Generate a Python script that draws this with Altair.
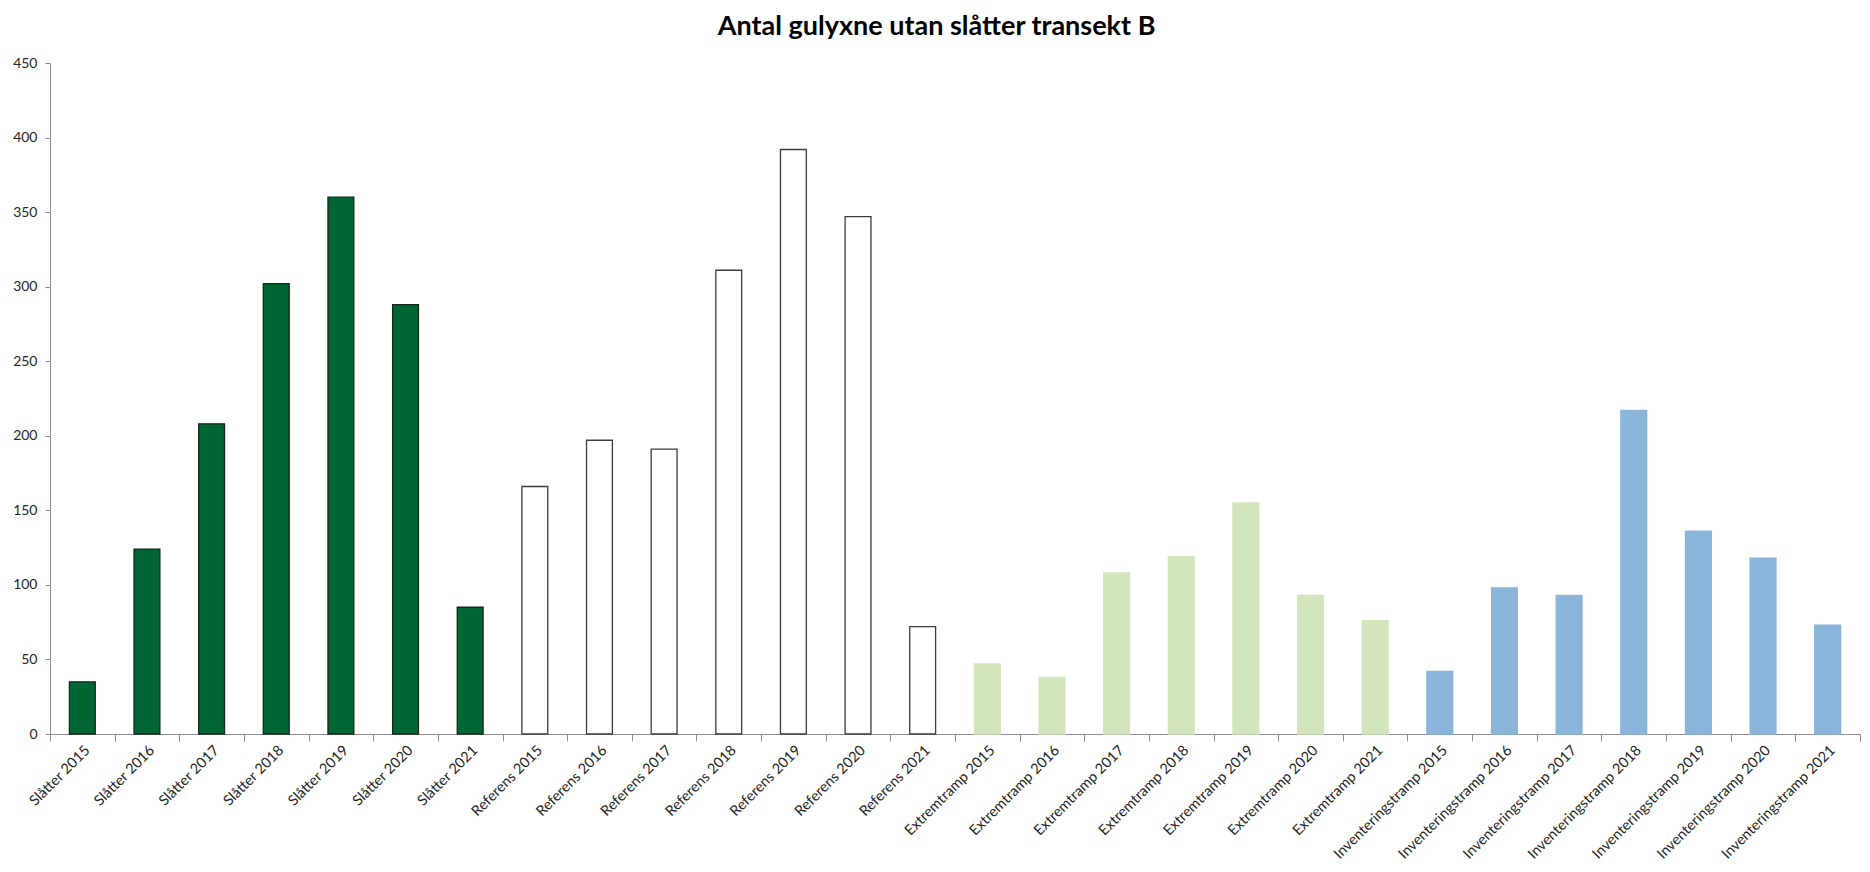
import altair as alt
import pandas as pd

# ---- data ----
groups = ["Slåtter", "Referens", "Extremtramp", "Inventeringstramp"]
years = [2015, 2016, 2017, 2018, 2019, 2020, 2021]
slatter = [35, 124, 208, 302, 360, 288, 85]
referens = [166, 197, 191, 311, 392, 347, 72]
extremtramp = [47, 38, 108, 119, 155, 93, 76]
inventeringstramp = [42, 98, 93, 217, 136, 118, 73]
y_ticks = [0, 50, 100, 150, 200, 250, 300, 350, 400, 450]

series = [slatter, referens, extremtramp, inventeringstramp]
rows = []
for g, vals in zip(groups, series):
    for yr, v in zip(years, vals):
        rows.append({"label": f"{g} {yr}", "group": g, "value": v})
df = pd.DataFrame(rows)
labels = list(df["label"])

fill_range = ["#006633", "#ffffff", "#d3e5bd", "#8ab4da"]
stroke_range = ["#16261c", "#3c3c3c", "#d3e5bd", "#8ab4da"]

FONT = "Lato"

chart = (
    alt.Chart(df)
    .mark_bar(width=alt.RelativeBandSize(0.4), strokeWidth=1.3)
    .encode(
        x=alt.X(
            "label:N",
            sort=labels,
            scale=alt.Scale(paddingInner=0, paddingOuter=0),
            axis=alt.Axis(
                title=None,
                labelAngle=-45,
                tickBand="extent",
                tickSize=7,
                domainColor="#8c8c8c",
                tickColor="#8c8c8c",
                labelFont=FONT,
                labelFontSize=14.5,
                labelColor="#262626",
                labelPadding=2,
            ),
        ),
        y=alt.Y(
            "value:Q",
            scale=alt.Scale(domain=[0, 450], nice=False),
            axis=alt.Axis(
                title=None,
                values=y_ticks,
                grid=False,
                tickSize=5,
                domainColor="#8c8c8c",
                tickColor="#8c8c8c",
                labelFont=FONT,
                labelFontSize=14,
                labelColor="#262626",
                labelPadding=8,
            ),
        ),
        fill=alt.Fill("group:N", scale=alt.Scale(domain=groups, range=fill_range), legend=None),
        stroke=alt.Stroke("group:N", scale=alt.Scale(domain=groups, range=stroke_range), legend=None),
    )
    .properties(
        width=1810,
        height=671,
        padding={"left": 4, "top": 5, "right": 0, "bottom": 4},
        title=alt.TitleParams(
            "Antal gulyxne utan slåtter transekt B",
            font=FONT,
            fontSize=27,
            fontWeight="bold",
            color="#000000",
            anchor="middle",
            frame="bounds",
            offset=15,
        ),
    )
    .configure_view(stroke=None)
)

chart.save("out.html", embed_options={"renderer": "svg", "actions": False})
